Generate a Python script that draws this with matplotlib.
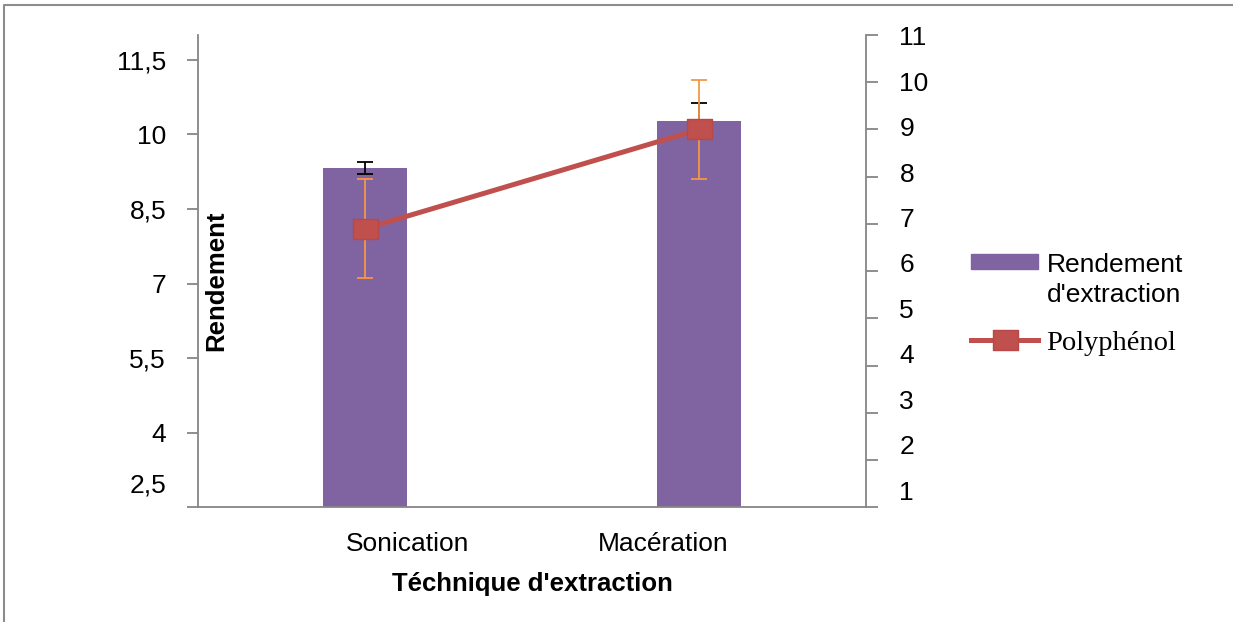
import numpy as np
import matplotlib
matplotlib.use("Agg")
import matplotlib.pyplot as plt
from matplotlib.transforms import ScaledTranslation
from matplotlib.lines import Line2D
from matplotlib.patches import Rectangle
from matplotlib.path import Path
from matplotlib.legend_handler import HandlerPatch

plt.rcParams['font.family'] = ['Liberation Sans', 'DejaVu Sans']

# ---- data ----
categories = ["Sonication", "Macération"]
rendement = [9.32, 10.27]          # left axis (bars)
rendement_err = [0.12, 0.37]
polyphenol = [6.9, 9.0]            # right axis (line)
polyphenol_err = [1.05, 1.05]

left_ticks = [2.5, 4, 5.5, 7, 8.5, 10, 11.5]
left_ticklabels = ["2,5", "4", "5,5", "7", "8,5", "10", "11,5"]
right_ticks = list(range(1, 12))

# ---- style ----
purple = "#8064A2"
red = "#C0504D"
orange = "#F79646"
axis_grey = "#868686"
fs = 19

fig = plt.figure(figsize=(12.33, 6.22), dpi=100)
ax = fig.add_axes([0.1606, 0.1844, 0.7024 - 0.1606, 0.9437 - 0.1844])

x = np.arange(len(categories))
ax.bar(x, rendement, width=0.25, color=purple, zorder=2)
ax.errorbar(x, rendement, yerr=rendement_err, fmt="none", ecolor="black",
            elinewidth=1.3, capsize=5.5, capthick=1.3, zorder=3)
ax.set_xlim(-0.5, 1.5)
ax.set_ylim(2.5, 12)
ax.set_yticks(left_ticks)
ax.set_yticklabels(left_ticklabels)
ax.set_xticks(x)
ax.set_xticklabels(categories)

for s in ["top", "right"]:
    ax.spines[s].set_visible(False)
for s in ["left", "bottom"]:
    ax.spines[s].set_color(axis_grey)
    ax.spines[s].set_linewidth(1.3)
ax.tick_params(axis="y", direction="out", length=8, width=1.3, color=axis_grey,
               pad=15, labelsize=fs)
ax.tick_params(axis="x", length=0, pad=18, labelsize=fs)

# Excel-ish label placement
lbl0 = ax.get_yticklabels()[0]
lbl0.set_transform(lbl0.get_transform() + ScaledTranslation(0, 0.24, fig.dpi_scale_trans))
for lbl, dx in zip(ax.get_xticklabels(), [0.43, -0.36]):
    lbl.set_transform(lbl.get_transform() + ScaledTranslation(dx, 0, fig.dpi_scale_trans))

ax.set_xlabel("Téchnique d'extraction", fontsize=18.5, fontweight="bold", labelpad=11)
ax.set_ylabel("Rendement", fontsize=18.5, fontweight="bold", va="center", ha="center")
ax.yaxis.set_label_coords(0.028, 0.479)

# ---- secondary axis ----
ax2 = ax.twinx()
ax2.set_ylim(1, 11)
ax2.set_yticks(right_ticks)
ax2.tick_params(axis="y", direction="out", length=8.5, width=1.3, color=axis_grey,
                labelright=False)
for s in ["top", "left", "bottom"]:
    ax2.spines[s].set_visible(False)
ax2.spines["right"].set_color(axis_grey)
ax2.spines["right"].set_linewidth(1.3)

ax2.errorbar(x, polyphenol, yerr=polyphenol_err, fmt="none", ecolor=orange,
             elinewidth=1.3, capsize=5.5, capthick=1.3, zorder=2)
rect = Path([(-1.25, -1), (1.25, -1), (1.25, 1), (-1.25, 1), (-1.25, -1)],
            [Path.MOVETO, Path.LINETO, Path.LINETO, Path.LINETO, Path.CLOSEPOLY])
line, = ax2.plot(x, polyphenol, color=red, lw=3.6, marker=rect, markersize=18,
                 markerfacecolor=red, markeredgecolor="#B9474A", markeredgewidth=1,
                 zorder=3)

# right tick labels, spaced a little tighter than the ticks as in the source
ax3 = ax.twinx()
ax3.set_ylim(0.62, 11.02)
ax3.set_yticks(right_ticks)
ax3.tick_params(axis="y", length=0, pad=24, labelsize=fs)
for s in ax3.spines.values():
    s.set_visible(False)


# ---- legend ----
def top_patch(legend, orig_handle, xdescent, ydescent, width, height, fontsize):
    # put the swatch next to the first line of the two-line label
    return Rectangle((-xdescent, -ydescent + 15), width, 11)


bar_proxy = Rectangle((0, 0), 1, 1, color=purple)
leg = fig.legend([bar_proxy, line], ["Rendement\nd'extraction", "Polyphénol"],
                 loc="upper left", bbox_to_anchor=(0.7684, 0.631),
                 frameon=False, fontsize=fs, handlelength=2.55, handletextpad=0.3,
                 labelspacing=0.9,
                 handler_map={bar_proxy: HandlerPatch(patch_func=top_patch)})
leg.get_texts()[0].set_linespacing(1.3)
leg.get_texts()[1].set_family(["Liberation Serif", "DejaVu Serif"])
leg.get_texts()[1].set_fontsize(20.5)

# outer frame of the chart area (only top and left visible)
fig.add_artist(Line2D([4 / 1233, 4 / 1233, 1.0], [0.0, 1 - 5 / 622, 1 - 5 / 622],
                      transform=fig.transFigure, color="#8C8C8C", lw=1.5))

fig.savefig("out.png", dpi=100)
